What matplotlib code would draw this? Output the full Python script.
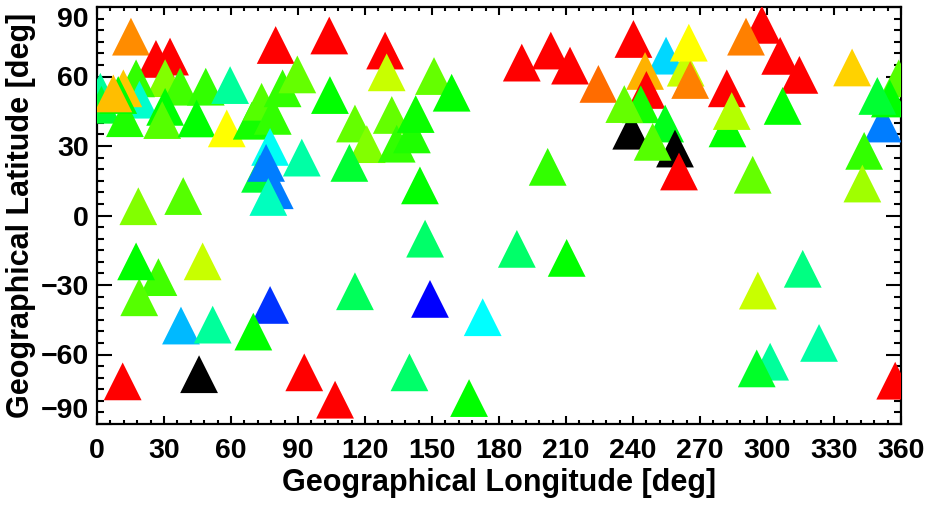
import matplotlib
matplotlib.use("Agg")
import matplotlib.pyplot as plt
from matplotlib.colors import LinearSegmentedColormap
from matplotlib.ticker import MultipleLocator
import numpy as np

plt.rcParams['font.family'] = ['Liberation Sans', 'DejaVu Sans']

# Station longitude [deg], latitude [deg], colour value (0=blue ... 1=red, >1 = black)
lon = [15.2, 26.4, 32.7, 30.5, 17.5, 37.2, 48.7, 59.6, 1.5, 2.0,
       19.0, 30.5, 12.5, 29.2, 44.6, 11.8, 9.5, 7.3, 58.1, 69.3,
       73.7, 78.7, 80.0, 83.1, 89.7, 104.0, 104.3, 129.0, 129.7, 150.9,
       158.8, 115.5, 120.8, 113.0, 132.0, 134.2, 141.0, 142.7, 91.7, 77.5,
       73.0, 79.6, 75.7, 76.7, 144.6, 146.9,
       18.5, 38.6, 27.5, 18.9, 17.5, 47.3, 77.5, 70.0, 115.5, 149.1,
       172.7, 37.6, 51.8, 11.5, 45.7, 92.8, 106.6, 139.9, 166.6,
       188.0, 210.3, 295.9, 316.0, 323.3, 301.4, 295.4, 357.4,
       190.2, 203.2, 211.8, 201.8, 224.5, 240.2, 254.8, 263.6, 265.0, 245.4,
       265.6, 246.0, 239.2, 243.5, 236.1, 254.4, 258.8, 248.8, 260.6,
       282.0, 282.3, 284.2, 297.7, 290.6, 305.9, 314.5, 307.0, 293.6, 338.1,
       351.8, 359.0, 355.0, 349.4, 343.5, 342.7]
lat = [77.2, 67.6, 68.6, 59.3, 59.2, 55.6, 55.6, 56.3, 53.4, 47.8,
       50.0, 46.9, 42.0, 41.2, 41.9, 54.9, 52.0, 52.7, 37.6, 40.9,
       49.1, 43.0, 73.6, 54.9, 60.9, 77.7, 52.0, 71.2, 61.8, 60.2,
       53.0, 39.7, 30.8, 22.7, 43.4, 31.0, 35.0, 43.8, 25.0, 29.6,
       18.0, 10.9, 22.7, 8.0, 13.0, -10.0,
       4.0, 8.4, -26.6, -35.3, -19.8, -19.8, -38.6, -50.1, -32.7, -36.0,
       -43.9, -47.5, -47.1, -71.6, -68.5, -67.7, -79.5, -67.7, -78.8,
       -14.4, -18.3, -32.4, -23.0, -55.0, -63.1, -66.0, -71.3,
       66.0, 71.2, 64.7, 21.0, 56.8, 76.2, 69.0, 63.8, 74.6, 62.4,
       58.5, 54.2, 36.6, 48.0, 48.1, 39.7, 28.9, 31.8, 19.0,
       54.9, 37.6, 45.1, 82.3, 77.2, 68.9, 60.7, 47.3, 17.6, 63.9,
       39.7, 59.2, 50.5, 51.6, 27.9, 13.8]
value = [0.78, 1.0, 1.0, 0.50, 0.44, 0.45, 0.44, 0.28, 0.28, 0.36,
         0.24, 0.40, 0.425, 0.465, 0.40, 0.685, 0.40, 0.70, 0.60, 0.415,
         0.465, 0.44, 1.0, 0.44, 0.48, 1.0, 0.40, 1.0, 0.555, 0.48,
         0.40, 0.48, 0.50, 0.36, 0.48, 0.44, 0.425, 0.41, 0.27, 0.21,
         0.36, 0.10, 0.10, 0.25, 0.40, 0.32,
         0.50, 0.465, 0.45, 0.465, 0.40, 0.555, 0.04, 0.40, 0.33, 0.0,
         0.20, 0.145, 0.28, 1.0, 1.1, 1.0, 1.0, 0.32, 0.40,
         0.32, 0.40, 0.555, 0.30, 0.27, 0.28, 0.37, 1.0,
         1.0, 1.0, 1.0, 0.44, 0.83, 1.0, 0.17, 0.555, 0.60, 0.72,
         0.80, 1.0, 1.1, 0.415, 0.48, 0.38, 1.1, 0.465, 1.0,
         1.0, 0.40, 0.54, 1.0, 0.80, 1.0, 1.0, 0.40, 0.48, 0.67,
         0.10, 0.465, 0.40, 0.36, 0.44, 0.525]

xticks = [0, 30, 60, 90, 120, 150, 180, 210, 240, 270, 300, 330, 360]
yticks = [-90, -60, -30, 0, 30, 60, 90]

cmap = LinearSegmentedColormap.from_list(
    "rb", [(0.0, (0, 0, 1)), (0.2, (0, 1, 1)), (0.4, (0, 1, 0)),
           (0.6, (1, 1, 0)), (0.8, (1, 0.5, 0)), (1.0, (1, 0, 0))])
cmap.set_over("black")

fig = plt.figure(figsize=(9.33, 5.09), dpi=100)
ax = fig.add_axes([97/933, 1-424/509, (901-97)/933, (424-7)/509])
ax.scatter(lon, lat, c=value, cmap=cmap, vmin=0, vmax=1, marker='^',
           s=740, linewidths=0, clip_on=True, zorder=3)

ax.set_xlim(0, 360)
ax.set_ylim(-90, 90)
ax.set_xticks(xticks)
ax.set_yticks(yticks)
ax.xaxis.set_minor_locator(MultipleLocator(6))
ax.yaxis.set_minor_locator(MultipleLocator(5))
for s in ax.spines.values():
    s.set_linewidth(1.6)
ax.tick_params(axis='both', which='both', direction='in', top=True, right=True, width=1.5)
ax.tick_params(axis='x', which='major', length=6, pad=10)
ax.tick_params(axis='x', which='minor', length=3)
ax.tick_params(axis='y', which='major', length=11, pad=6)
ax.tick_params(axis='y', which='minor', length=5)
for lab in ax.get_xticklabels() + ax.get_yticklabels():
    lab.set_fontsize(20.5)
    lab.set_fontweight('bold')
ylabs = ax.get_yticklabels()
ylabs[0].set_va('bottom')
ylabs[-1].set_va('top')

ax.set_xlabel("Geographical Longitude [deg]", fontsize=22, fontweight='bold', labelpad=3)
ax.set_ylabel("Geographical Latitude [deg]", fontsize=22, fontweight='bold', labelpad=3)

fig.savefig("out.png", dpi=100)
